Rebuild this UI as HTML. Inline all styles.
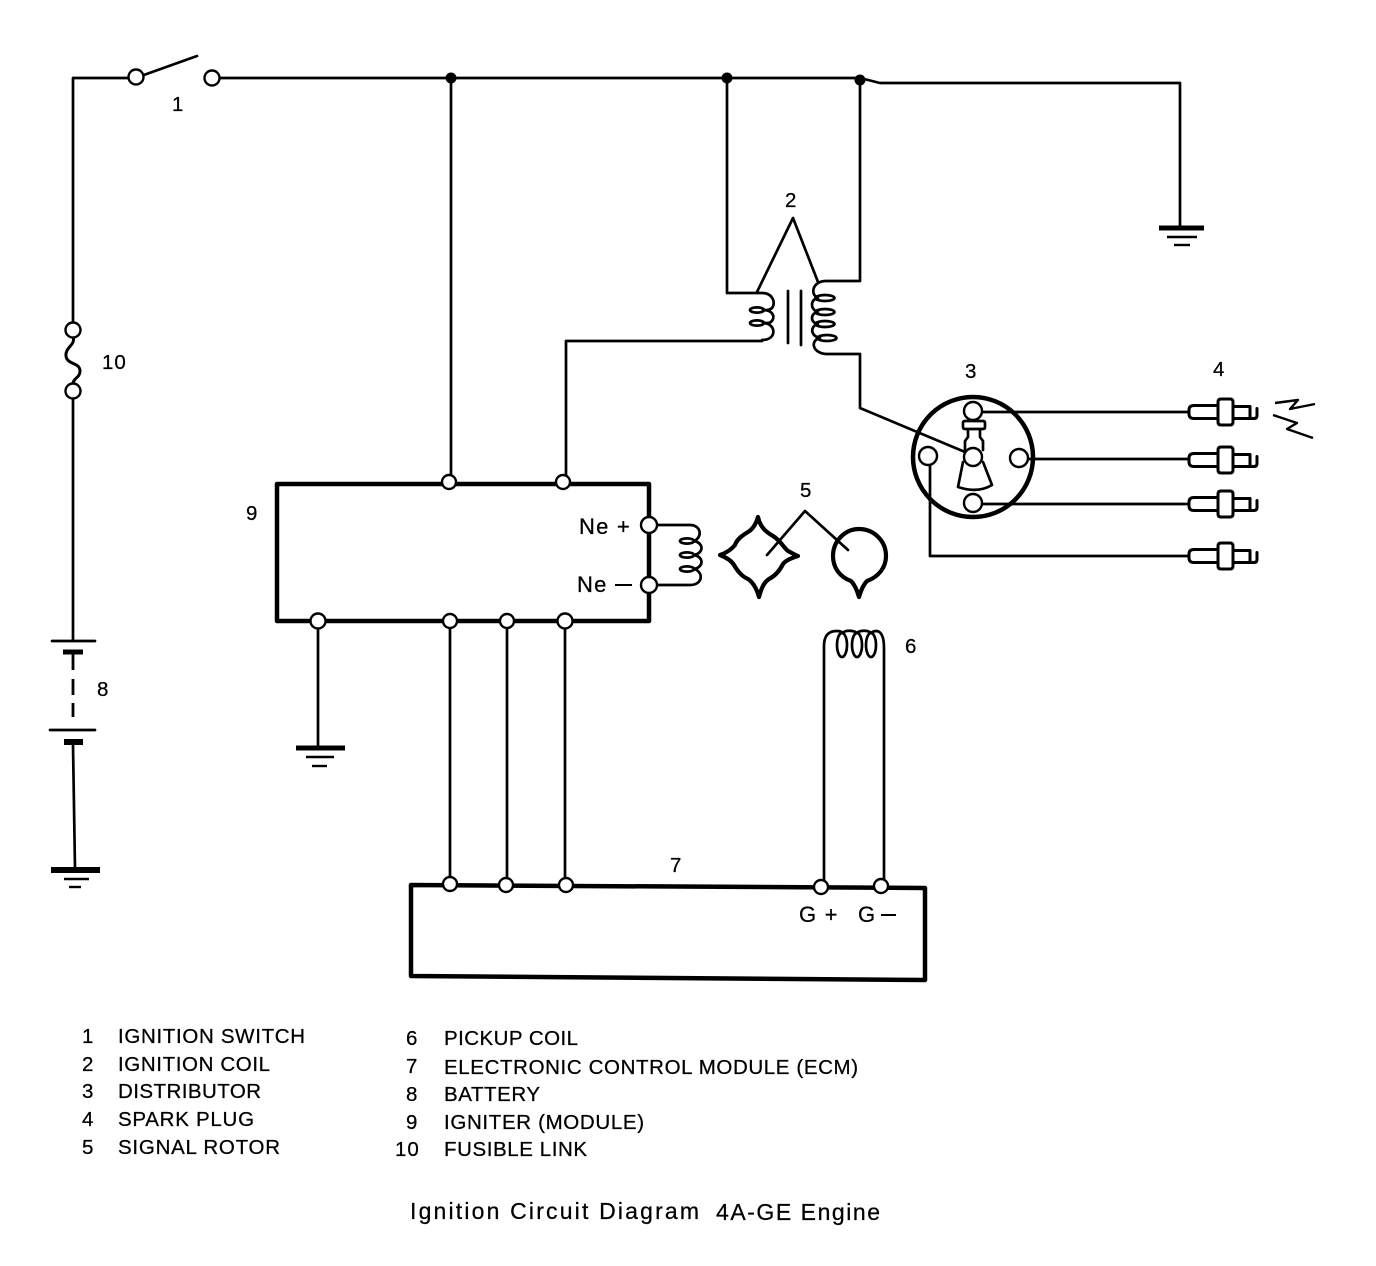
<!DOCTYPE html>
<html><head><meta charset="utf-8"><style>
html,body{margin:0;padding:0;background:#fff}
svg{display:block}
text{font-family:"Liberation Sans",sans-serif;font-size:20.5px;fill:#000;letter-spacing:.95px;stroke:#000;stroke-width:.25px}
.b{font-size:22px;letter-spacing:1.2px}
.w{fill:none;stroke:#000;stroke-width:2.7;stroke-linejoin:round;stroke-linecap:round}
.t{fill:none;stroke:#000;stroke-width:4.5;stroke-linejoin:round;stroke-linecap:round}
.n{fill:#fff;stroke:#000;stroke-width:2.4}
.c{fill:none;stroke:#000;stroke-width:2.7;stroke-linecap:round;stroke-linejoin:round}
.p{fill:none;stroke:#000;stroke-width:3;stroke-linecap:round;stroke-linejoin:round}
</style></head><body>
<svg width="1376" height="1266" viewBox="0 0 1376 1266" xmlns="http://www.w3.org/2000/svg">
<defs>
<g id="plug">
<path class="p" d="M27 -6.500H3Q-2 -6.500 -2 -2V2Q-2 6.500 3 6.500H27M30 -13h9q3 0 3 3v20q0 3 -3 3h-9q-3 0 -3 -3v-20q0 -3 3 -3zM42 -5.500h17v12h-17M59 6.500h4q3 0 3 -3v-7"/>
</g>
</defs>

<!-- main wires -->
<path class="w" d="M130 78H73V322M73 400V640M218 78H860L880 83H1180V228"/>
<path class="w" d="M141 76L197 56"/>
<path class="w" d="M451 78V476M566 476V341H762"/>
<path class="w" d="M727 78V293H762C773 293 776 303 772 308C769 311 765 310 763 310M763 310C775 310 776 320 769 323C767 323 765 323 763 323M763 323C776 323 778 340 762 340"/>
<ellipse class="c" cx="757" cy="310" rx="7" ry="2.6"/><ellipse class="c" cx="757" cy="323" rx="7" ry="2.6"/>
<path class="w" d="M860 80V281H826C812 281 810 295 818 298M818 298C810 299 810 310 818 312M818 312C810 313 810 323 818 324M818 324C810 326 810 336 820 338M820 338C810 340 812 353 826 354H860V408L965 452"/>
<ellipse class="c" cx="825" cy="298" rx="9.500" ry="3"/><ellipse class="c" cx="825" cy="312" rx="9.500" ry="3"/><ellipse class="c" cx="825" cy="324" rx="9.500" ry="3"/><ellipse class="c" cx="827" cy="338" rx="9.500" ry="3"/>
<path class="w" d="M757 292L793 218L818 282"/>
<path class="w" d="M788 291V343M801 291V345"/>
<circle cx="451" cy="78" r="5.500" fill="#000"/><circle cx="727" cy="78" r="5.500" fill="#000"/><circle cx="860" cy="80" r="5.500" fill="#000"/>
<circle class="n" cx="136" cy="77" r="7.500"/><circle class="n" cx="212" cy="78" r="7.500"/>

<!-- fuse -->
<path class="c" d="M73 337C76 345 65 347 66 356C67 365 80 362 80 371C80 378 73 378 73 384" style="stroke-width:3"/>
<circle class="n" cx="73" cy="330" r="7.500"/><circle class="n" cx="73" cy="391" r="7.500"/>

<!-- battery -->
<path d="M52 641H95" class="c"/><path d="M63 652H83" stroke="#000" stroke-width="5"/>
<path d="M73 652V670M73 679V695M73 703V717" stroke="#000" stroke-width="2.800"/>
<path d="M50 730H95" class="c"/><path d="M64 742H83" stroke="#000" stroke-width="6"/>
<path d="M73 745L75 868" class="w"/>
<path d="M51 870H100" stroke="#000" stroke-width="6"/><path d="M64 879H89" stroke="#000" stroke-width="2.400"/><path d="M69 887H81" stroke="#000" stroke-width="2.400"/>

<!-- ground top right -->
<path d="M1159 228H1204" stroke="#000" stroke-width="5"/><path d="M1167 237H1197" stroke="#000" stroke-width="2.400"/><path d="M1174 245H1190" stroke="#000" stroke-width="2.400"/>
<!-- ground igniter -->
<path class="w" d="M318 621V746"/>
<path d="M296 748H345" stroke="#000" stroke-width="5"/><path d="M306 757H334" stroke="#000" stroke-width="2.400"/><path d="M312 766H327" stroke="#000" stroke-width="2.400"/>

<!-- igniter -->
<path class="t" d="M277 484H649V621H277Z"/>
<path class="w" d="M450 621V884M507 621V884M565 621V885"/>
<path class="c" d="M655 525H690C701 525 703 537 694 541M694 541C704 543 704 553 694 555M694 555C704 557 704 567 694 569M694 569C704 572 703 585 690 585H655"/>
<ellipse class="c" cx="687" cy="541" rx="7" ry="2.600"/><ellipse class="c" cx="687" cy="555" rx="7" ry="2.600"/><ellipse class="c" cx="687" cy="569" rx="7" ry="2.600"/>
<circle class="n" cx="449" cy="482" r="7"/><circle class="n" cx="563" cy="482" r="7"/>
<circle class="n" cx="649" cy="525" r="8"/><circle class="n" cx="649" cy="585" r="8"/>
<circle class="n" cx="318" cy="621" r="7.500"/><circle class="n" cx="450" cy="621" r="7"/><circle class="n" cx="507" cy="621" r="7"/><circle class="n" cx="565" cy="621" r="7.500"/>

<!-- signal rotor -->
<path d="M758 517C760 527 766 532 773 536C780 540 784 548 788 551C792 553 795 555 798 556C792 558 786 560 783 564C780 570 775 576 769 579C763 583 761 590 759 597C757 590 754 583 748 579C741 576 737 570 734 565C731 560 725 557 720 555C726 553 731 550 735 545C737 539 743 535 748 532C753 529 756 524 758 517Z" fill="none" stroke="#000" stroke-width="4.200" stroke-linejoin="round"/>
<path d="M859 597C857 590 855 585 851 581C840 577 833 568 833 556C833 541 845 529 859 529C874 529 886 541 886 556C886 568 878 577 867 581C863 585 861 590 859 597Z" fill="none" stroke="#000" stroke-width="4.200" stroke-linejoin="round"/>
<path class="w" d="M767 555L805 511L848 550"/>

<!-- pickup coil -->
<path class="w" d="M824 884V646C824 634 830 631 837 631C840 631 842 632 843 633C845 630 853 630 857 633C860 630 868 630 871 633C873 631 875 631 877 631C882 632 884 638 884 648V882"/>
<ellipse class="c" cx="842" cy="645" rx="5" ry="12"/><ellipse class="c" cx="857" cy="645" rx="5" ry="12"/><ellipse class="c" cx="871" cy="645" rx="5" ry="12"/>

<!-- ECM -->
<path class="t" d="M411 885L925 888V980L411 976Z"/>
<circle class="n" cx="450" cy="884" r="7"/><circle class="n" cx="506" cy="885" r="7"/><circle class="n" cx="566" cy="885" r="7"/><circle class="n" cx="821" cy="887" r="7"/><circle class="n" cx="881" cy="886" r="7"/>

<!-- distributor -->
<circle cx="973" cy="457" r="60" fill="none" stroke="#000" stroke-width="4.500"/>
<path class="w" d="M982 412L1189 412M1028 459H1189M982 504H1189M930 465V556H1189"/>
<path class="c" d="M965 421H983Q985 421 985 423V427Q985 429 983 429H965Q963 429 963 427V423Q963 421 965 421ZM968 430V437L965 441V450M980 430V437L983 441V450"/>
<path class="c" d="M963 462L958 487C970 491 982 491 992 485L983 462"/>
<circle class="n" cx="973" cy="411" r="9"/><circle class="n" cx="973" cy="457" r="9"/><circle class="n" cx="1019" cy="458" r="9"/><circle class="n" cx="973" cy="503" r="9"/><circle class="n" cx="928" cy="456" r="9"/>

<!-- plugs -->
<use href="#plug" x="1191" y="412"/><use href="#plug" x="1191" y="460"/><use href="#plug" x="1191" y="504"/><use href="#plug" x="1191" y="556"/>
<path d="M1275 403L1298 400L1290 409L1315 404M1273 415L1297 423L1287 429L1313 438" fill="none" stroke="#000" stroke-width="2.400" stroke-linejoin="round"/>

<!-- numbers -->
<text x="172" y="111">1</text><text x="785" y="207">2</text><text x="965" y="378">3</text><text x="1213" y="376">4</text><text x="800" y="497">5</text><text x="905" y="653">6</text><text x="670" y="872">7</text><text x="97" y="696">8</text><text x="246" y="520">9</text><text x="102" y="369">10</text>
<text class="b" x="579" y="534">Ne +</text><text class="b" x="577" y="592">Ne</text><path d="M615 585H632" stroke="#000" stroke-width="2"/>
<text class="b" x="799" y="922">G +</text><text class="b" x="858" y="922">G</text><path d="M881 915H896" stroke="#000" stroke-width="2"/>

<!-- legend -->
<text x="82" y="1043">1</text><text x="118" y="1043" textLength="188">IGNITION SWITCH</text>
<text x="82" y="1071">2</text><text x="118" y="1071" textLength="153">IGNITION COIL</text>
<text x="82" y="1098">3</text><text x="118" y="1098" textLength="144">DISTRIBUTOR</text>
<text x="82" y="1126">4</text><text x="118" y="1126" textLength="137">SPARK PLUG</text>
<text x="82" y="1154">5</text><text x="118" y="1154" textLength="163">SIGNAL ROTOR</text>
<text x="406" y="1045">6</text><text x="444" y="1045" textLength="135">PICKUP COIL</text>
<text x="406" y="1073">7</text><text x="444" y="1074" textLength="415">ELECTRONIC CONTROL MODULE (ECM)</text>
<text x="406" y="1101">8</text><text x="444" y="1101" textLength="97">BATTERY</text>
<text x="406" y="1129">9</text><text x="444" y="1129" textLength="201">IGNITER (MODULE)</text>
<text x="395" y="1156">10</text><text x="444" y="1156" textLength="144">FUSIBLE LINK</text>
<text x="410" y="1219" style="font-size:23px" textLength="290">Ignition Circuit Diagram</text>
<text x="716" y="1220" style="font-size:23px" textLength="165">4A-GE Engine</text>
</svg>
</body></html>
